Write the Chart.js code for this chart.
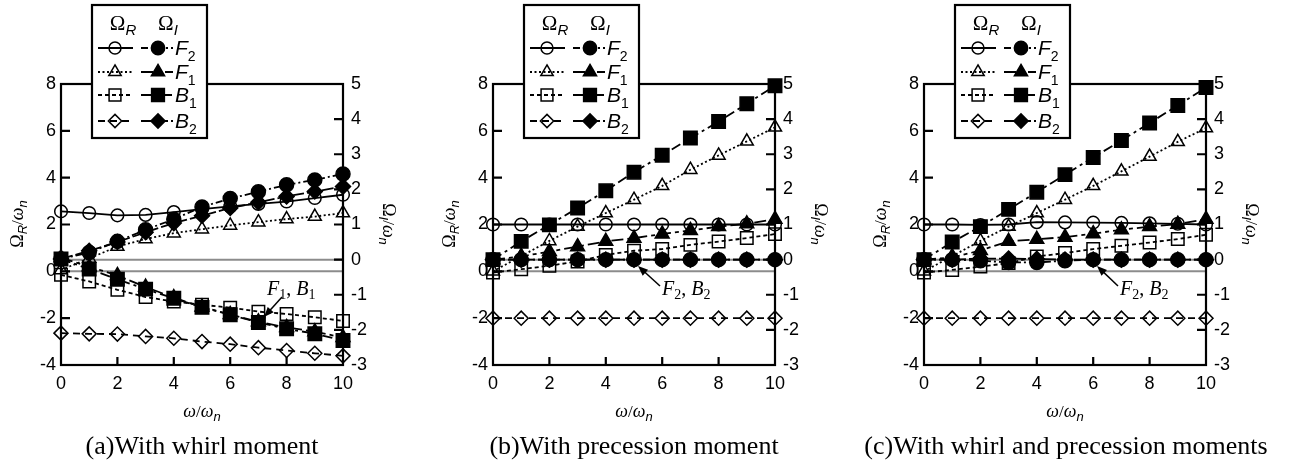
<!DOCTYPE html>
<html>
<head>
<meta charset="utf-8">
<script src="https://cdn.jsdelivr.net/npm/chart.js@4.4.0/dist/chart.umd.min.js"></script>
<style>
  body { margin: 0; background: #fff; width: 1290px; height: 470px; position: relative; overflow: hidden; }
  .panel { position: absolute; top: 0; width: 440px; height: 470px; }
</style>
</head>
<body>
<div class="panel" style="left:-5px"><canvas id="chartA" width="440" height="470"></canvas></div>
<div class="panel" style="left:427px"><canvas id="chartB" width="440" height="470"></canvas></div>
<div class="panel" style="left:858px"><canvas id="chartC" width="440" height="470"></canvas></div>
<script>
// x: omega / omega_n
const omegaRatio = [0, 1, 2, 3, 4, 5, 6, 7, 8, 9, 10];
const xTicks = [0, 2, 4, 6, 8, 10];
const leftTicks = [-4, -2, 0, 2, 4, 6, 8];
const rightTicks = [-3, -2, -1, 0, 1, 2, 3, 4, 5];

// (a) with whirl moment  (R = real part, left axis; I = imaginary part, right axis)
const aF2R = [2.56, 2.49, 2.39, 2.41, 2.53, 2.66, 2.77, 2.88, 2.98, 3.13, 3.27];
const aF1R = [0.06, 0.55, 1.06, 1.38, 1.63, 1.80, 1.96, 2.10, 2.23, 2.34, 2.49];
const aB1R = [-0.15, -0.43, -0.79, -1.10, -1.29, -1.43, -1.55, -1.72, -1.82, -1.96, -2.12];
const aB2R = [-2.64, -2.67, -2.68, -2.78, -2.86, -3.00, -3.11, -3.26, -3.38, -3.50, -3.61];
const aF2I = [0.02, 0.20, 0.52, 0.85, 1.15, 1.50, 1.74, 1.93, 2.13, 2.27, 2.44];
const aF1I = [0.05, -0.20, -0.45, -0.78, -1.08, -1.35, -1.56, -1.77, -1.93, -2.05, -2.22];
const aB1I = [0.02, -0.27, -0.56, -0.84, -1.10, -1.36, -1.57, -1.79, -1.97, -2.11, -2.30];
const aB2I = [0.02, 0.25, 0.50, 0.78, 1.04, 1.25, 1.47, 1.63, 1.80, 1.94, 2.08];

// (b) with precession moment
const bF2R = [2, 2, 2, 2, 2, 2, 2, 2, 2, 2, 2];
const bF1R = [0, 0.65, 1.30, 1.91, 2.49, 3.06, 3.65, 4.34, 4.95, 5.55, 6.15];
const bB1R = [-0.05, 0.09, 0.24, 0.42, 0.70, 0.88, 0.95, 1.13, 1.27, 1.42, 1.59];
const bB2R = [-2, -2, -2, -2, -2, -2, -2, -2, -2, -2, -2];
const bF2I = [0, 0, 0, 0, 0, 0, 0, 0, 0, 0, 0];
const bF1I = [0, 0.09, 0.23, 0.37, 0.52, 0.61, 0.73, 0.83, 0.94, 1.02, 1.15];
const bB1I = [0, 0.52, 0.99, 1.47, 1.96, 2.49, 2.97, 3.46, 3.93, 4.44, 4.95];
const bB2I = [0, 0, 0, 0, 0, 0, 0, 0, 0, 0, 0];

// (c) with whirl and precession moments
const cF2R = [2.0, 2.0, 1.98, 2.0, 2.10, 2.09, 2.08, 2.07, 2.05, 2.03, 2.0];
const cF1R = [0, 0.65, 1.30, 1.91, 2.49, 3.06, 3.65, 4.27, 4.90, 5.53, 6.12];
const cB1R = [-0.05, 0.06, 0.20, 0.35, 0.63, 0.78, 0.95, 1.09, 1.23, 1.38, 1.56];
const cB2R = [-2, -2, -2, -2, -2, -2, -2, -2, -2, -2, -2];
const cF2I = [0, 0, -0.03, -0.08, -0.08, -0.03, 0, 0, 0, 0, 0];
const cF1I = [0, 0.06, 0.26, 0.52, 0.58, 0.64, 0.74, 0.85, 0.94, 1.01, 1.15];
const cB1I = [0, 0.50, 0.94, 1.43, 1.92, 2.42, 2.91, 3.39, 3.89, 4.39, 4.90];
const cB2I = [0, 0, 0.03, 0.03, 0.02, 0, 0, 0, 0, 0, 0];

const SERIF = '"Liberation Serif", "Times New Roman", serif';
const SANS = '"Liberation Sans", Arial, sans-serif';

const styles = {
  F2R: { axis: 'yL', pt: 'circle', r: 6.3, filled: false, dash: [] },
  F1R: { axis: 'yL', pt: 'triangle', r: 7.5, filled: false, dash: [2, 2.5] },
  B1R: { axis: 'yL', pt: 'rect', r: 8.8, filled: false, dash: [4, 3] },
  B2R: { axis: 'yL', pt: 'rectRot', r: 7, filled: false, dash: [7, 5] },
  F2I: { axis: 'yR', pt: 'circle', r: 7, filled: true, dash: [7, 3, 2, 3] },
  F1I: { axis: 'yR', pt: 'triangle', r: 8, filled: true, dash: [12, 4, 4, 4] },
  B1I: { axis: 'yR', pt: 'rect', r: 9.5, filled: true, dash: [10, 4, 3, 4] },
  B2I: { axis: 'yR', pt: 'rectRot', r: 7.5, filled: true, dash: [12, 3] }
};
const drawOrder = ['F2I', 'F1I', 'B1I', 'B2I', 'F2R', 'F1R', 'B1R', 'B2R'];
const legendRows = [['F2R', 'F2I', '2'], ['F1R', 'F1I', '1'], ['B1R', 'B1I', '1'], ['B2R', 'B2I', '2']];
const legendNames = ['F', 'F', 'B', 'B'];

function drawRich(ctx, parts, x, y, align, rot) {
  ctx.save();
  ctx.translate(x, y);
  if (rot) ctx.rotate(rot);
  let w = 0;
  parts.forEach(p => { ctx.font = p.f; w += ctx.measureText(p.t).width + (p.gap || 0); });
  let cx = align === 'center' ? -w / 2 : (align === 'right' ? -w : 0);
  ctx.textAlign = 'left';
  ctx.textBaseline = 'alphabetic';
  ctx.fillStyle = '#000';
  parts.forEach(p => {
    ctx.font = p.f;
    ctx.fillText(p.t, cx, p.dy || 0);
    cx += ctx.measureText(p.t).width + (p.gap || 0);
  });
  ctx.restore();
}

function marker(ctx, s, x, y) {
  ctx.save();
  ctx.setLineDash([]);
  ctx.lineWidth = 1.5;
  ctx.strokeStyle = '#000';
  ctx.fillStyle = s.filled ? '#000' : 'rgba(0,0,0,0)';
  Chart.helpers.drawPoint(ctx, { pointStyle: s.pt, radius: s.r * 0.95, rotation: 0, borderWidth: 1.5 }, x, y);
  ctx.restore();
}

function segment(ctx, dash, x1, x2, y) {
  ctx.save();
  ctx.setLineDash(dash);
  ctx.lineWidth = 1.8;
  ctx.strokeStyle = '#000';
  ctx.beginPath();
  ctx.moveTo(x1, y);
  ctx.lineTo(x2, y);
  ctx.stroke();
  ctx.restore();
}

function yTitle(sub) {
  return [
    { t: '\u03A9', f: '18px ' + SERIF },
    { t: sub, f: 'italic 13px ' + SANS, dy: 4 },
    { t: '/', f: '17px ' + SERIF },
    { t: '\u03C9', f: 'italic 18px ' + SERIF },
    { t: 'n', f: 'italic 13px ' + SANS, dy: 4 }
  ];
}

function decorPlugin(cfg) {
  return {
    id: 'decor',
    beforeDatasetsDraw(chart) {
      const { ctx, chartArea: a, scales } = chart;
      ctx.save();
      ctx.strokeStyle = '#8c8c8c';
      ctx.lineWidth = 2;
      [scales.yL.getPixelForValue(0), scales.yR.getPixelForValue(0)].forEach(py => {
        ctx.beginPath();
        ctx.moveTo(a.left, py);
        ctx.lineTo(a.right, py);
        ctx.stroke();
      });
      ctx.restore();
    },
    afterDraw(chart) {
      const { ctx, chartArea: a, scales } = chart;
      ctx.save();
      ctx.strokeStyle = '#000';
      ctx.lineWidth = 2.2;
      ctx.strokeRect(a.left, a.top, a.right - a.left, a.bottom - a.top);
      ctx.beginPath();
      xTicks.slice(1, -1).forEach(v => {
        const px = scales.x.getPixelForValue(v);
        ctx.moveTo(px, a.bottom);
        ctx.lineTo(px, a.bottom - 8);
      });
      leftTicks.slice(1, -1).forEach(v => {
        const py = scales.yL.getPixelForValue(v);
        ctx.moveTo(a.left, py);
        ctx.lineTo(a.left + 9, py);
      });
      rightTicks.slice(1, -1).forEach(v => {
        const py = scales.yR.getPixelForValue(v);
        ctx.moveTo(a.right, py);
        ctx.lineTo(a.right - 9, py);
      });
      ctx.stroke();
      ctx.restore();

      // legend box
      const L = a.left;
      const bx = L + 31, by = 5, bw = 115, bh = 133;
      ctx.save();
      ctx.fillStyle = '#fff';
      ctx.fillRect(bx, by, bw, bh);
      ctx.lineWidth = 2.2;
      ctx.strokeStyle = '#000';
      ctx.strokeRect(bx, by, bw, bh);
      ctx.restore();
      drawRich(ctx, [{ t: '\u03A9', f: '21px ' + SERIF }, { t: 'R', f: 'italic 15px ' + SANS, dy: 5 }], L + 62, 30, 'center');
      drawRich(ctx, [{ t: '\u03A9', f: '21px ' + SERIF }, { t: 'I', f: 'italic 15px ' + SANS, dy: 5 }], L + 107, 30, 'center');
      const rowY = [48, 72, 95, 121];
      legendRows.forEach((row, i) => {
        const y = rowY[i];
        const sR = styles[row[0]], sI = styles[row[1]];
        segment(ctx, sR.dash, L + 37, L + 72, y);
        marker(ctx, sR, L + 54, y);
        segment(ctx, sI.dash, L + 80, L + 112, y);
        marker(ctx, sI, L + 97, y);
        drawRich(ctx, [{ t: legendNames[i], f: 'italic 21px ' + SANS }, { t: row[2], f: '14px ' + SANS, dy: 6 }], L + 114, y + 7, 'left');
      });

      // axis titles and caption
      const cxMid = (a.left + a.right) / 2;
      drawRich(ctx, yTitle('R'), a.left - 44 + 6, 224, 'center', -Math.PI / 2);
      drawRich(ctx, yTitle('I'), a.right + 46 - 6, 224, 'center', Math.PI / 2);
      drawRich(ctx, [
        { t: '\u03C9', f: 'italic 18px ' + SERIF },
        { t: '/', f: '17px ' + SERIF },
        { t: '\u03C9', f: 'italic 18px ' + SERIF },
        { t: 'n', f: 'italic 13px ' + SANS, dy: 4 }
      ], cxMid, 417, 'center');
      drawRich(ctx, [{ t: cfg.caption, f: '26px ' + SERIF }], cxMid + (cfg.capShift || 0), 454, 'center');

      // annotation with arrow
      const n = cfg.note;
      drawRich(ctx, [
        { t: n.a, f: 'italic 20px ' + SERIF },
        { t: n.sub, f: '14px ' + SERIF, dy: 4 },
        { t: ', ', f: '20px ' + SERIF },
        { t: n.b, f: 'italic 20px ' + SERIF },
        { t: n.sub, f: '14px ' + SERIF, dy: 4 }
      ], L + n.tx, n.ty, 'left');
      const x1 = L + n.from[0], y1 = n.from[1], x2 = L + n.to[0], y2 = n.to[1];
      const ang = Math.atan2(y2 - y1, x2 - x1);
      ctx.save();
      ctx.strokeStyle = '#000';
      ctx.fillStyle = '#000';
      ctx.lineWidth = 1.5;
      ctx.beginPath();
      ctx.moveTo(x1, y1);
      ctx.lineTo(x2 - 6 * Math.cos(ang), y2 - 6 * Math.sin(ang));
      ctx.stroke();
      ctx.beginPath();
      ctx.moveTo(x2, y2);
      ctx.lineTo(x2 - 10 * Math.cos(ang) + 4 * Math.sin(ang), y2 - 10 * Math.sin(ang) - 4 * Math.cos(ang));
      ctx.lineTo(x2 - 10 * Math.cos(ang) - 4 * Math.sin(ang), y2 - 10 * Math.sin(ang) + 4 * Math.cos(ang));
      ctx.closePath();
      ctx.fill();
      ctx.restore();
    }
  };
}

function tickList(arr) {
  return scale => { scale.ticks = arr.map(v => ({ value: v })); };
}

function makePanel(id, series, cfg) {
  const datasets = drawOrder.map(k => {
    const s = styles[k];
    return {
      label: k,
      data: omegaRatio.map((x, i) => ({ x: x, y: series[k][i] })),
      yAxisID: s.axis,
      borderColor: '#000',
      borderWidth: 1.8,
      borderDash: s.dash,
      pointStyle: s.pt,
      pointRadius: s.r,
      pointBorderWidth: 1.5,
      pointBorderColor: '#000',
      pointBackgroundColor: s.filled ? '#000' : 'rgba(0,0,0,0)',
      tension: 0,
      clip: false,
      fill: false
    };
  });
  const tickFont = { family: SANS, size: 18 };
  new Chart(document.getElementById(id), {
    type: 'line',
    data: { datasets },
    options: {
      responsive: false,
      animation: false,
      events: [],
      layout: { padding: { top: 84, left: 5, right: 5, bottom: 0 } },
      plugins: { legend: { display: false }, tooltip: { enabled: false } },
      scales: {
        x: {
          type: 'linear', min: 0, max: 10,
          afterBuildTicks: tickList(xTicks),
          afterFit: s => { s.height = 105; },
          grid: { display: false, drawTicks: false },
          border: { display: false },
          ticks: { font: tickFont, color: '#000', padding: 8, maxRotation: 0 }
        },
        yL: {
          type: 'linear', position: 'left', min: -4, max: 8,
          afterBuildTicks: tickList(leftTicks),
          afterFit: s => { s.width = 61; },
          grid: { display: false, drawTicks: false },
          border: { display: false },
          ticks: { font: tickFont, color: '#000', padding: 5 }
        },
        yR: {
          type: 'linear', position: 'right', min: -3, max: 5,
          afterBuildTicks: tickList(rightTicks),
          afterFit: s => { s.width = 87; },
          grid: { display: false, drawTicks: false },
          border: { display: false },
          ticks: { font: tickFont, color: '#000', padding: 8 }
        }
      }
    },
    plugins: [decorPlugin(cfg)]
  });
}

makePanel('chartA',
  { F2R: aF2R, F1R: aF1R, B1R: aB1R, B2R: aB2R, F2I: aF2I, F1I: aF1I, B1I: aB1I, B2I: aB2I },
  { caption: '(a)With whirl moment',
    note: { a: 'F', b: 'B', sub: '1', tx: 206, ty: 295, from: [221, 297], to: [203, 317] } });
makePanel('chartB',
  { F2R: bF2R, F1R: bF1R, B1R: bB1R, B2R: bB2R, F2I: bF2I, F1I: bF1I, B1I: bB1I, B2I: bB2I },
  { caption: '(b)With precession moment',
    note: { a: 'F', b: 'B', sub: '2', tx: 169, ty: 295, from: [167, 286], to: [145, 266] } });
makePanel('chartC',
  { F2R: cF2R, F1R: cF1R, B1R: cB1R, B2R: cB2R, F2I: cF2I, F1I: cF1I, B1I: cB1I, B2I: cB2I },
  { caption: '(c)With whirl and precession moments', capShift: 1,
    note: { a: 'F', b: 'B', sub: '2', tx: 196, ty: 295, from: [194, 286], to: [173, 266] } });
</script>
</body>
</html>
